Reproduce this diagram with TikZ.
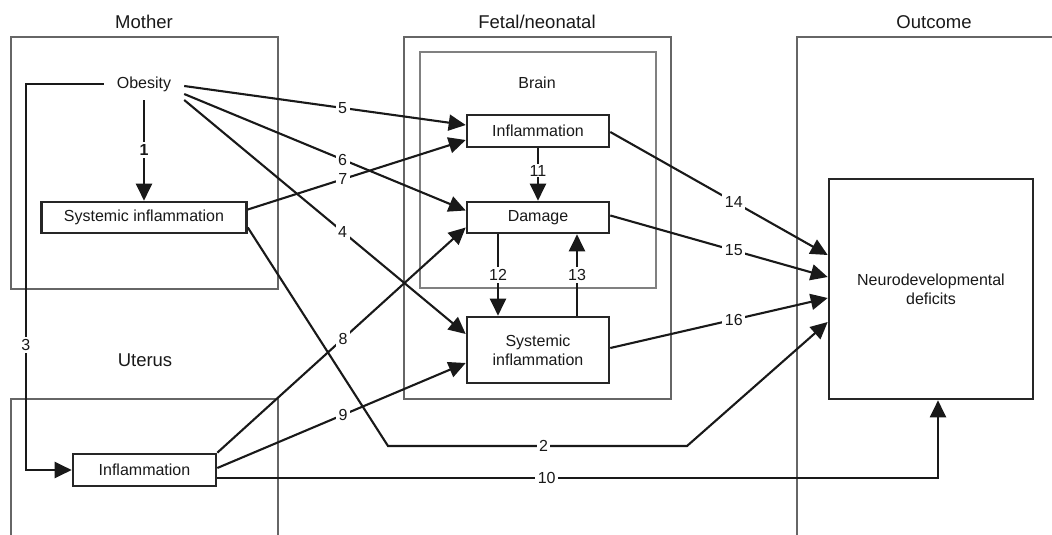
\documentclass[tikz,border=0pt]{standalone}
\usepackage{fontspec}
\setmainfont{Liberation Sans}
\usetikzlibrary{arrows.meta}
\begin{document}
\begin{tikzpicture}[x=1pt,y=-1pt,
  every node/.style={font=\fontsize{16}{19}\selectfont, text=black!90},
  region/.style={draw=black!60, line width=1.3pt},
  brainreg/.style={draw=black!50, line width=1.3pt},
  ttl/.style={inner sep=0pt, font=\fontsize{18.5}{22}\selectfont},
  box/.style={draw=black!85, line width=2.6pt, inner sep=0pt, align=center},
  conn/.style={draw=black!90, line width=2.1pt},
  arr/.style={conn, -{Triangle[length=17pt,width=16pt]}},
  lab/.style={fill=white, inner sep=2.5pt}]
\useasboundingbox (0,0) rectangle (1052,535);
\fill[white] (0,0) rectangle (1052,535);
% regions
\draw[region] (11,37) rectangle (278,289);
\draw[region] (11,545) -- (11,399) -- (278,399) -- (278,545);
\draw[region] (404,37) rectangle (671,399);
\draw[brainreg] (420,52) rectangle (656,288);
\draw[region] (797,545) -- (797,37) -- (1060,37);
% titles
\node[ttl] (tmother) at (144,22) {Mother};
\node[ttl] (tfetal) at (537,22) {Fetal/neonatal};
\node[ttl] (toutcome) at (934,22) {Outcome};
\node[ttl] (tuterus) at (145,360) {Uterus};
\node[inner sep=0pt] (tbrain) at (537,83) {Brain};
% nodes
\node[inner sep=0pt, minimum width=80pt, minimum height=32pt] (ob) at (144,84) {Obesity};
\node[box, minimum width=205pt, minimum height=31pt] (msi) at (144,217.5) {Systemic inflammation};
\node[box, minimum width=143pt, minimum height=32pt] (uinf) at (144.5,470) {Inflammation};
\node[box, minimum width=142pt, minimum height=32pt] (binf) at (538,131) {Inflammation};
\node[box, minimum width=142pt, minimum height=31pt] (dam) at (538,217.5) {Damage};
\node[box, minimum width=142pt, minimum height=66pt] (fsi) at (538,350) {Systemic\\inflammation};
\node[box, minimum width=204pt, minimum height=220pt] (nd) at (931,289) {Neurodevelopmental\\deficits};
\coordinate (b2a) at (388,446);
\coordinate (b2b) at (687,446);
% connectors
\draw[arr] (ob.south) -- node[lab, font=\fontsize{16}{19}\selectfont\bfseries] {1} (msi.north);
\draw[arr] (ob.west) -| node[lab, pos=0.838] {3} ([xshift=-46pt]uinf.west) -- (uinf.west);
\draw[arr] ([yshift=-2pt]ob.east) -- node[lab, pos=0.563] {5} ([yshift=6pt]binf.west);
\draw[arr] ([yshift=-10pt]ob.east) -- node[lab, pos=0.563] {6} ([yshift=7pt]dam.west);
\draw[arr] ([yshift=-16pt]ob.east) -- node[lab, pos=0.563] {4} ([yshift=16pt]fsi.west);
\draw[arr] ([yshift=8pt]msi.east) -- node[lab, pos=0.436] {7} ([yshift=-9pt]binf.west);
\draw[arr] ([yshift=-10pt]msi.east) -- (b2a) -- node[lab, pos=0.52] {2} (b2b) -- ([yshift=-33pt]nd.west);
\draw[arr] (uinf.north east) -- node[lab, pos=0.506] {8} ([yshift=-10pt]dam.west);
\draw[arr] ([yshift=2pt]uinf.east) -- node[lab, pos=0.506] {9} ([yshift=-13pt]fsi.west);
\draw[arr] ([yshift=-8pt]uinf.east) -| node[lab, pos=0.2285] {10} ([xshift=7pt]nd.south);
\draw[arr] (binf.south) -- node[lab, pos=0.43, inner ysep=1pt] {11} (dam.north);
\draw[arr] ([xshift=-40pt]dam.south) -- node[lab] {12} ([xshift=-40pt]fsi.north);
\draw[arr] ([xshift=39pt]fsi.north) -- node[lab] {13} ([xshift=39pt]dam.south);
\draw[arr] ([yshift=-1pt]binf.east) -- node[lab, pos=0.568] {14} ([yshift=34pt]nd.west);
\draw[arr] ([yshift=2pt]dam.east) -- node[lab, pos=0.568] {15} ([yshift=12pt]nd.west);
\draw[arr] ([yshift=2pt]fsi.east) -- node[lab, pos=0.568] {16} ([yshift=-9pt]nd.west);
\end{tikzpicture}
\end{document}
